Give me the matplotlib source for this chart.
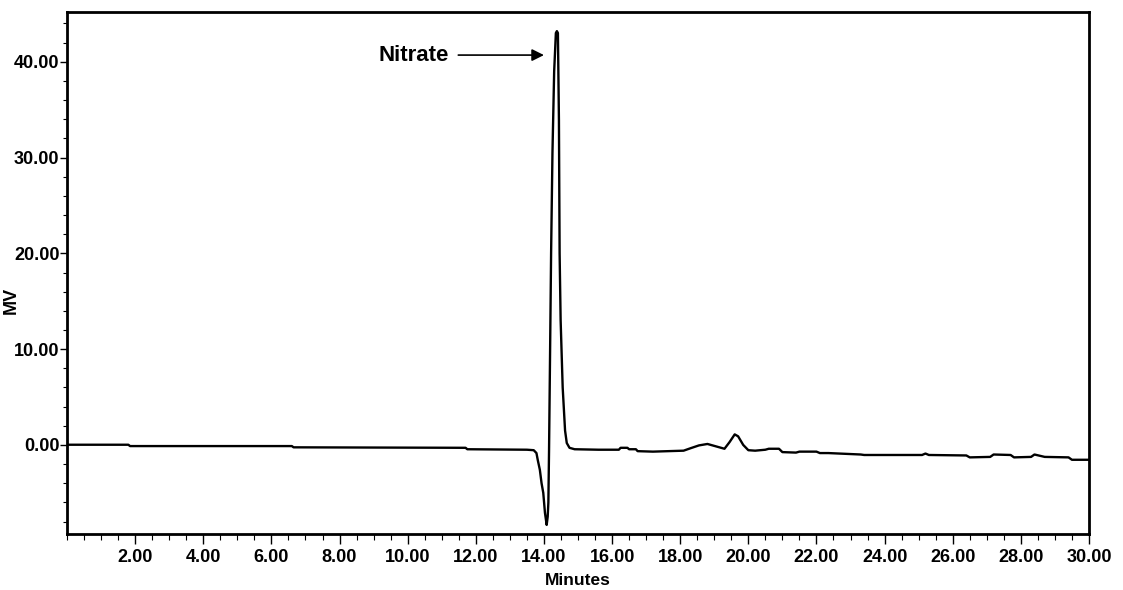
import numpy as np
import matplotlib.pyplot as plt
from matplotlib.ticker import MultipleLocator, FormatStrFormatter

plt.rcParams['font.family'] = ['Liberation Sans', 'DejaVu Sans']
plt.rcParams['font.weight'] = 'bold'
plt.rcParams['axes.labelweight'] = 'bold'

# chromatogram trace (minutes, mV)
minutes = [0.00, 1.80, 1.85, 6.60, 6.65, 11.70, 11.75, 13.50, 13.70,
           13.78, 13.82, 13.88, 13.93, 13.98, 14.03, 14.08, 14.11, 14.13,
           14.15, 14.18, 14.21, 14.25, 14.30, 14.35, 14.38, 14.41, 14.44,
           14.46, 14.49, 14.55, 14.62, 14.67, 14.75, 14.90, 15.60, 16.20,
           16.25, 16.45, 16.50, 16.70, 16.75, 17.20, 18.10, 18.30, 18.55,
           18.80, 19.00, 19.30, 19.45, 19.60, 19.70, 19.85, 20.00, 20.20,
           20.50, 20.60, 20.90, 21.00, 21.40, 21.50, 22.00, 22.10, 22.35,
           23.30, 23.40, 25.10, 25.20, 25.30, 26.40, 26.50, 27.10, 27.20,
           27.70, 27.80, 28.30, 28.40, 28.70, 29.40, 29.50, 30.00]
mv = [0.02, 0.02, -0.12, -0.12, -0.25, -0.30, -0.45, -0.50, -0.55,
      -0.85, -1.60, -2.60, -4.00, -5.00, -7.10, -8.35, -7.50, -6.00,
      -0.50, 9.60, 20.00, 30.50, 39.00, 43.00, 43.20, 43.00, 33.90,
      20.00, 13.00, 6.00, 1.50, 0.20, -0.30, -0.45, -0.50, -0.50,
      -0.30, -0.30, -0.45, -0.45, -0.65, -0.70, -0.60, -0.35, -0.05,
      0.10, -0.10, -0.40, 0.30, 1.10, 0.90, 0.00, -0.55, -0.60,
      -0.50, -0.40, -0.40, -0.75, -0.80, -0.70, -0.70, -0.85, -0.85,
      -1.00, -1.05, -1.05, -0.90, -1.05, -1.10, -1.30, -1.25, -1.00,
      -1.05, -1.30, -1.25, -1.00, -1.25, -1.30, -1.55, -1.55]

x_ticks = [2, 4, 6, 8, 10, 12, 14, 16, 18, 20, 22, 24, 26, 28, 30]
y_ticks = [0, 10, 20, 30, 40]

fig = plt.figure(figsize=(11.23, 5.90), dpi=100)
ax = fig.add_axes([0.0597, 0.0949, 0.9100, 0.8848])

ax.plot(minutes, mv, color='black', lw=1.7, solid_joinstyle='round')

ax.set_xlim(0, 30)
ax.set_ylim(-9.3, 45.2)
ax.set_xticks(x_ticks)
ax.set_yticks(y_ticks)
ax.xaxis.set_major_formatter(FormatStrFormatter('%.2f'))
ax.yaxis.set_major_formatter(FormatStrFormatter('%.2f'))
ax.xaxis.set_minor_locator(MultipleLocator(0.5))
ax.yaxis.set_minor_locator(MultipleLocator(2))
ax.tick_params(axis='both', which='major', labelsize=13, width=1, color='black')
ax.tick_params(axis='x', which='major', length=7, pad=4)
ax.tick_params(axis='y', which='major', length=5, pad=0.5)
ax.tick_params(axis='x', which='minor', length=4.5, width=0.8)
ax.tick_params(axis='y', which='minor', length=3, width=0.8)

for sp in ax.spines.values():
    sp.set_linewidth(2)

ax.set_xlabel('Minutes', fontsize=12.5, labelpad=5)
ax.set_ylabel('MV', fontsize=13)
ax.yaxis.set_label_coords(-0.046, 0.448)

ax.annotate('Nitrate', xy=(14.0, 40.7), xytext=(11.2, 40.7),
            fontsize=16, ha='right', va='center',
            arrowprops=dict(arrowstyle='-|>', color='black', lw=1.2,
                            mutation_scale=18, shrinkA=5, shrinkB=0))

fig.savefig('out.png', dpi=100)
